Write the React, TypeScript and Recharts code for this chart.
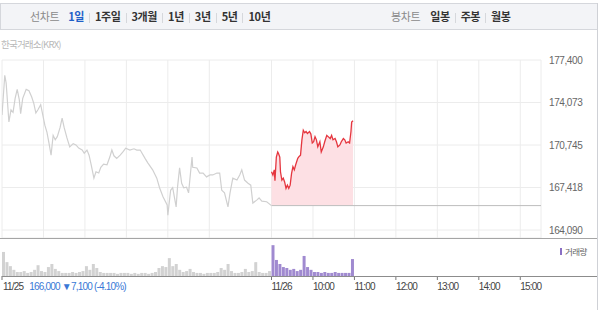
import React from 'react';
import { ComposedChart, Line, Area, Bar, Cell, XAxis, YAxis, CartesianGrid } from 'recharts';

// ---- data ----
const prevMinutes = [0, 3, 4, 6, 10, 13, 16, 19, 22, 25, 27, 30, 35, 39, 43, 46, 49, 52, 56, 59, 62, 65, 68, 71, 74, 77, 80, 84, 87, 90, 94, 98, 103, 107, 111, 116, 119, 123, 126, 129, 133, 136, 140, 143, 147, 152, 156, 159, 162, 166, 171, 175, 179, 185, 191, 195, 200, 207, 211, 218, 224, 228, 233, 239, 240, 244, 247, 252, 254, 257, 260, 263, 267, 270, 275, 276, 282, 286, 291, 296, 301, 305, 311, 315, 318, 322, 327, 330, 334, 340, 344, 347, 351, 356, 360, 363, 369, 372, 376, 383, 390];
const prevPrices = [173100, 175400, 176200, 175600, 172550, 173500, 173300, 174400, 175100, 174300, 173200, 174400, 175100, 175000, 174500, 174000, 173250, 173500, 173900, 173100, 172300, 171750, 170900, 169950, 171500, 171150, 171400, 172100, 172850, 172100, 171300, 170600, 170850, 170750, 170500, 170350, 170100, 170350, 169950, 169200, 168150, 168650, 168550, 169000, 169250, 169200, 169800, 170350, 169900, 169700, 169950, 170200, 170500, 170350, 170450, 170350, 170350, 169700, 169350, 168800, 168150, 167400, 166700, 166050, 165250, 167200, 167400, 165900, 167450, 168950, 167750, 167400, 167450, 167000, 169800, 169000, 168950, 168550, 168550, 168250, 168400, 168400, 168550, 168550, 167200, 167000, 165900, 167000, 168150, 168000, 168400, 168800, 168000, 167750, 167600, 166200, 166450, 166600, 166350, 166300, 166000];

const todayMinutes = [390, 392, 394, 395, 397, 399, 400, 402, 403, 405, 407, 409, 411, 413, 415, 417, 419, 421, 423, 425, 428, 430, 432, 434, 436, 438, 440, 442, 445, 447, 449, 451, 453, 455, 457, 460, 462, 465, 467, 470, 472, 475, 477, 479, 482, 484, 486, 489, 491, 494, 496, 498, 501, 503, 505, 506, 508];
const todayPrices = [168650, 168400, 168800, 167950, 169800, 170200, 170100, 169800, 168650, 168000, 168150, 167850, 167350, 167600, 167350, 167600, 168500, 169050, 168800, 169200, 169700, 169850, 169950, 171150, 171900, 171700, 171800, 171650, 171800, 171600, 170900, 171000, 171400, 171150, 170600, 171000, 170200, 170600, 171000, 171500, 171400, 171250, 171500, 171150, 171250, 171000, 170600, 170750, 171000, 171250, 171150, 170900, 171000, 170900, 171800, 172550, 172650];

// volume per 5-minute bin (relative units)
const prevVolume = [78, 45, 32, 20, 13, 13, 16, 10, 13, 20, 35, 16, 13, 29, 39, 23, 16, 10, 10, 10, 13, 10, 13, 16, 32, 20, 39, 26, 13, 10, 10, 10, 10, 7, 10, 10, 10, 7, 10, 7, 10, 10, 7, 10, 13, 26, 32, 29, 58, 32, 39, 20, 13, 16, 23, 13, 10, 10, 7, 10, 10, 10, 13, 26, 20, 39, 16, 10, 10, 13, 23, 13, 16, 45, 13, 10, 10, 16];
const todayVolume = [100, 52, 39, 29, 26, 20, 23, 16, 20, 65, 29, 20, 13, 13, 10, 13, 10, 10, 13, 10, 10, 10, 10, 55];

const prevClose = 166000;
const change = -7100;
const changePct = -4.10;

const priceTicks = [164090, 167418, 170745, 174073, 177400];
const gridMinutes = [60, 120, 180, 240, 300, 360, 390, 450, 510, 570, 630, 690, 750];
const axisMinutes = [0, 390, 450, 510, 570, 630, 690, 750];
const axisLabels = ['11/25', '11/26', '10:00', '11:00', '12:00', '13:00', '14:00', '15:00'];

const lineTabs = ['1일', '1주일', '3개월', '1년', '3년', '5년', '10년'];
const candleTabs = ['일봉', '주봉', '월봉'];

// ---- derived tables ----
const prevRows = prevMinutes.map((m, i) => ({ m, p: prevPrices[i] }));
const todayRows = todayMinutes.map((m, i) => ({ m, p: todayPrices[i] }));
const baseRows = [{ m: 390, p: prevClose }, { m: 780, p: prevClose }];
const volRows = [
  ...prevVolume.map((v, i) => ({ m: i * 5 + 2.5, v, today: false })),
  ...todayVolume.map((v, i) => ({ m: 390 + i * 5 + 2.5, v, today: true })),
];

const fmt = (n: number) => n.toLocaleString('en-US');
const axisFont = "'Liberation Sans', Arial, 'Noto Sans CJK KR', sans-serif";
const krFont = "'Noto Sans CJK KR', 'Liberation Sans', sans-serif";

const Sep = () => (
  <span style={{ display: 'inline-block', width: 1, height: 10, background: '#d6d8dc', margin: '0 5px', verticalAlign: 'middle' }} />
);

const TimeTick = (props: any) => {
  const { x, y, payload } = props;
  const idx = axisMinutes.indexOf(payload.value);
  const label = axisLabels[idx] ?? '';
  if (idx === 0) {
    return (
      <text x={x + 1} y={y} dy="0.71em" fontSize={10} letterSpacing={-0.8} fill="#444" fontFamily={axisFont}>
        <tspan>{label}</tspan>
        <tspan dx={6} fill="#3a78d6">
          {`${fmt(prevClose)} ▼${fmt(Math.abs(change))} (${changePct.toFixed(2)}%)`}
        </tspan>
      </text>
    );
  }
  return (
    <text x={x} y={y} dy="0.71em" fontSize={10} letterSpacing={-0.8} fill="#444" fontFamily={axisFont}>
      {label}
    </text>
  );
};

export default function App() {
  return (
    <div style={{ position: 'absolute', left: 0, top: 0, width: 600, height: 310, background: '#fff', overflow: 'hidden' }}>
      {/* tab bar */}
      <div
        style={{
          position: 'absolute', left: 0, top: 3, width: 598, height: 27, boxSizing: 'border-box',
          border: '1px solid #d5d7dc', background: '#f3f4f7', fontFamily: krFont, fontSize: 11,
          letterSpacing: -0.4, lineHeight: '25px', whiteSpace: 'nowrap',
        }}
      >
        <div style={{ position: 'absolute', left: 29, top: 0 }}>
          <span style={{ color: '#8a8a8a', marginRight: 9 }}>선차트</span>
          {lineTabs.map((t, i) => (
            <React.Fragment key={t}>
              {i > 0 && <Sep />}
              <span style={{ color: i === 0 ? '#1f5fc8' : '#333', fontWeight: 700 }}>{t}</span>
            </React.Fragment>
          ))}
        </div>
        <div style={{ position: 'absolute', left: 390, top: 0 }}>
          <span style={{ color: '#8a8a8a', marginRight: 10 }}>봉차트</span>
          {candleTabs.map((t, i) => (
            <React.Fragment key={t}>
              {i > 0 && <Sep />}
              <span style={{ color: '#333', fontWeight: 700 }}>{t}</span>
            </React.Fragment>
          ))}
        </div>
      </div>

      {/* source */}
      <div style={{ position: 'absolute', left: 1, top: 37, fontFamily: krFont, fontSize: 9.5, letterSpacing: -0.8, color: '#b8b8b8' }}>
        한국거래소(KRX)
      </div>

      {/* price chart */}
      <div style={{ position: 'absolute', left: 0, top: 0 }}>
        <ComposedChart width={600} height={238} margin={{ top: 60, right: 3, bottom: 0, left: 2 }}>
          <CartesianGrid stroke="#ececec" />
          <XAxis type="number" dataKey="m" domain={[0, 780]} ticks={gridMinutes} hide allowDataOverflow />
          <YAxis
            type="number"
            orientation="right"
            width={56}
            domain={[163464, 177400]}
            ticks={priceTicks}
            allowDataOverflow
            axisLine={false}
            tickLine={false}
            tickFormatter={fmt}
            tick={{ fontSize: 10, fill: '#666', fontFamily: axisFont, letterSpacing: -0.4 } as any}
            interval={0}
          />
          <Area
            data={todayRows}
            dataKey="p"
            type="linear"
            baseValue={prevClose}
            stroke="none"
            fill="#fde0e4"
            fillOpacity={1}
            isAnimationActive={false}
          />
          <Line data={baseRows} dataKey="p" type="linear" stroke="#bdbdbd" strokeWidth={1} dot={false} isAnimationActive={false} />
          <Line data={prevRows} dataKey="p" type="linear" stroke="#d0d0d0" strokeWidth={1.2} dot={false} isAnimationActive={false} />
          <Line data={todayRows} dataKey="p" type="linear" stroke="#e5363f" strokeWidth={1.3} dot={false} isAnimationActive={false} />
        </ComposedChart>
      </div>

      {/* separator */}
      <div style={{ position: 'absolute', left: 0, top: 238, width: 597, height: 1, background: '#a5a5a5' }} />

      {/* volume chart */}
      <div style={{ position: 'absolute', left: 0, top: 238 }}>
        <ComposedChart width={600} height={72} data={volRows} margin={{ top: 1, right: 59, bottom: 0, left: 2 }}>
          <XAxis
            type="number"
            dataKey="m"
            domain={[0, 780]}
            ticks={axisMinutes}
            interval={0}
            height={34}
            axisLine={false}
            tickLine={{ stroke: '#777' }}
            tickSize={4}
            tickMargin={3}
            tick={<TimeTick />}
            allowDataOverflow
          />
          <YAxis hide domain={[0, 120]} allowDataOverflow />
          <Bar dataKey="v" barSize={3} isAnimationActive={false}>
            {volRows.map((r, i) => (
              <Cell key={i} fill={r.today ? '#a08ad0' : '#d2d2d2'} />
            ))}
          </Bar>
        </ComposedChart>
      </div>

      {/* volume axis line */}
      <div style={{ position: 'absolute', left: 2, top: 276, width: 595, height: 1, background: '#8c8c8c' }} />

      {/* volume legend */}
      <div style={{ position: 'absolute', left: 560, top: 245, display: 'flex', alignItems: 'center', fontFamily: krFont, fontSize: 8.5, color: '#666', letterSpacing: -0.6 }}>
        <span style={{ display: 'inline-block', width: 2, height: 7, background: '#8a6fc4', marginRight: 3 }} />
        거래량
      </div>

      {/* right border */}
      <div style={{ position: 'absolute', left: 597, top: 3, width: 1, height: 307, background: '#cfd1d6' }} />
    </div>
  );
}
